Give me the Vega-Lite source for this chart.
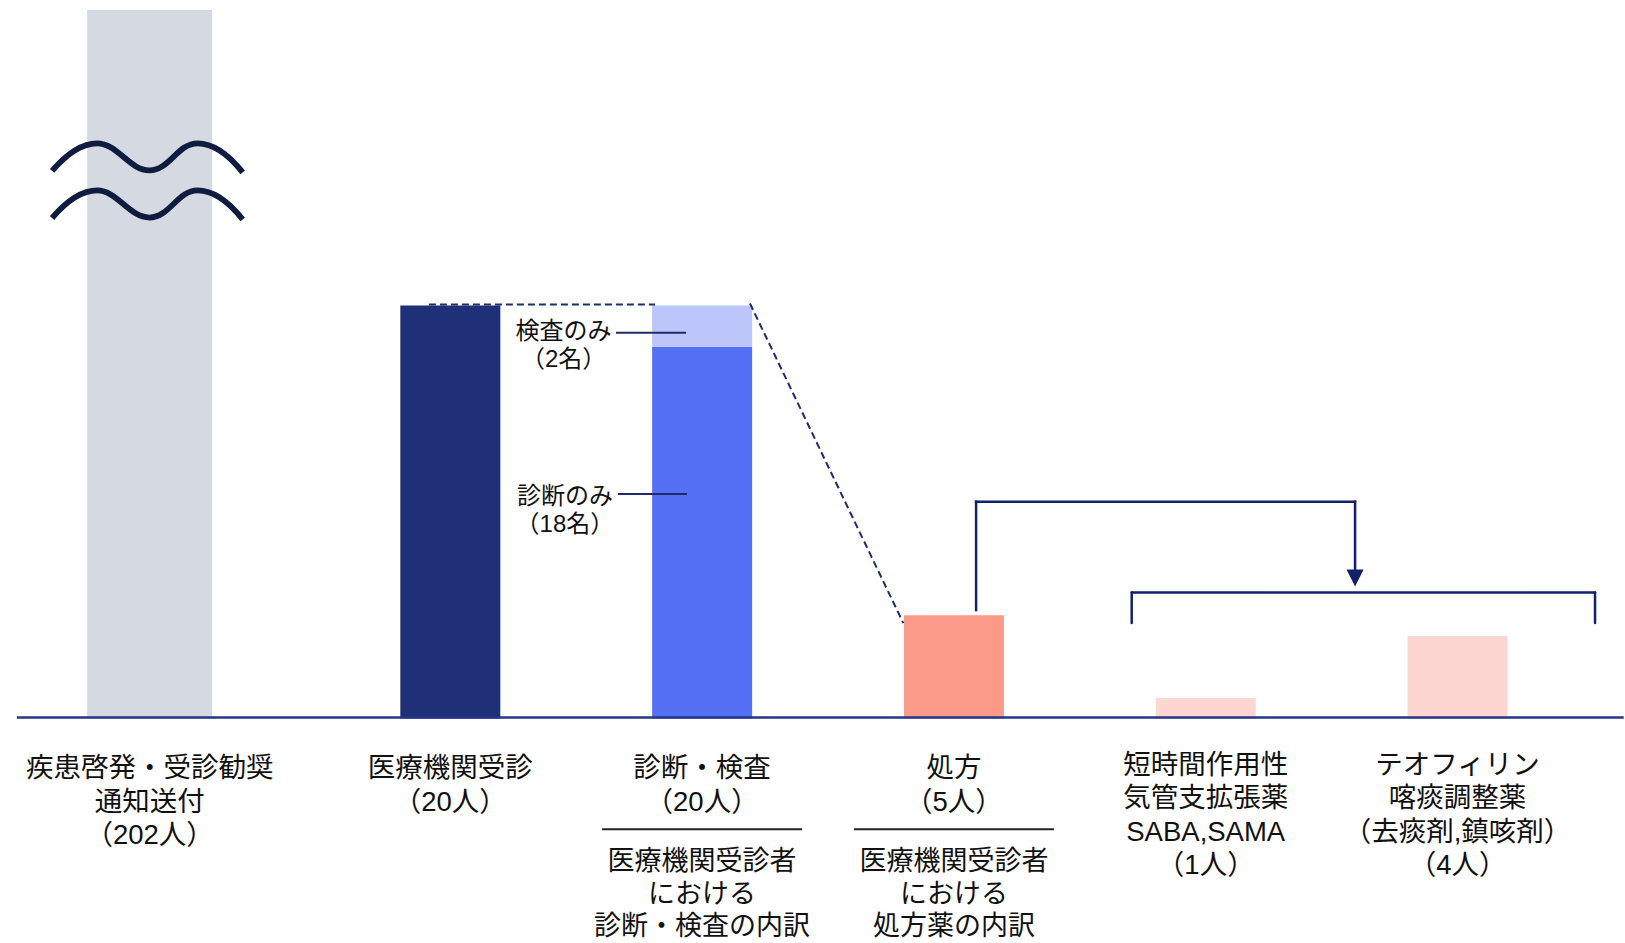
{
  "$schema": "https://vega.github.io/schema/vega-lite/v6.json",
  "width": 1625,
  "height": 933,
  "autosize": "none",
  "padding": {"top": 10, "left": 0, "right": 0, "bottom": 0},
  "background": "white",
  "config": {"view": {"stroke": null}},
  "datasets": {
    "bars": [
      {"stage": "疾患啓発・受診勧奨通知送付", "part": "通知送付", "slot": 0.806, "count": 202},
      {"stage": "医療機関受診", "part": "医療機関受診", "slot": 2, "count": 20},
      {"stage": "診断・検査", "part": "診断のみ", "slot": 3, "count": 18},
      {"stage": "診断・検査", "part": "検査のみ", "slot": 3, "count": 2},
      {"stage": "処方", "part": "処方", "slot": 4, "count": 5},
      {"stage": "処方薬", "part": "SABA,SAMA", "slot": 5, "count": 1},
      {"stage": "処方薬", "part": "テオフィリン・喀痰調整薬", "slot": 6, "count": 4}
    ],
    "stages": [
      {"slot": 0.806, "label": "疾患啓発・受診勧奨\n通知送付\n（202人）"},
      {"slot": 2, "label": "医療機関受診\n（20人）"},
      {"slot": 3, "label": "診断・検査\n（20人）"},
      {"slot": 4, "label": "処方\n（5人）"}
    ],
    "drugs": [
      {"slot": 5, "label": "短時間作用性\n気管支拡張薬\nSABA,SAMA\n（1人）"},
      {"slot": 6, "label": "テオフィリン\n喀痰調整薬\n（去痰剤,鎮咳剤）\n（4人）"}
    ],
    "subnotes": [
      {"slot": 3, "label": "医療機関受診者\nにおける\n診断・検査の内訳"},
      {"slot": 4, "label": "医療機関受診者\nにおける\n処方薬の内訳"}
    ]
  },
  "layer": [
    {
      "data": {"name": "bars"},
      "transform": [
        {"filter": "datum.slot < 1"},
        {"stack": "count", "groupby": ["slot"], "sort": [{"field": "count", "order": "descending"}], "as": ["c0", "c1"]}
      ],
      "mark": {"type": "bar", "width": 125},
      "encoding": {
        "x": {"field": "slot", "type": "quantitative", "axis": null, "scale": {"domain": [0.2117, 6.665], "nice": false, "zero": false, "padding": 0}},
        "y": {"field": "c1", "type": "quantitative", "axis": null, "scale": {"domain": [-10.87, 34.31], "nice": false, "zero": false, "clamp": true, "padding": 0}},
        "y2": {"field": "c0"},
        "color": {"field": "part", "type": "nominal", "legend": null, "scale": {"domain": ["通知送付", "医療機関受診", "診断のみ", "検査のみ", "処方", "SABA,SAMA", "テオフィリン・喀痰調整薬"], "range": ["#D5DAE2", "#1F2F78", "#5570F5", "#BCC6FA", "#FC9A8A", "#FDD5D1", "#FDD5D1"]}}
      }
    },
    {
      "data": {"name": "bars"},
      "transform": [
        {"filter": "datum.slot >= 1"},
        {"stack": "count", "groupby": ["slot"], "sort": [{"field": "count", "order": "descending"}], "as": ["c0", "c1"]}
      ],
      "mark": {"type": "bar", "width": 100},
      "encoding": {
        "x": {"field": "slot", "type": "quantitative", "axis": null, "scale": {"domain": [0.2117, 6.665], "nice": false, "zero": false, "padding": 0}},
        "y": {"field": "c1", "type": "quantitative", "axis": null, "scale": {"domain": [-10.87, 34.31], "nice": false, "zero": false, "clamp": true, "padding": 0}},
        "y2": {"field": "c0"},
        "color": {"field": "part", "type": "nominal", "legend": null, "scale": {"domain": ["通知送付", "医療機関受診", "診断のみ", "検査のみ", "処方", "SABA,SAMA", "テオフィリン・喀痰調整薬"], "range": ["#D5DAE2", "#1F2F78", "#5570F5", "#BCC6FA", "#FC9A8A", "#FDD5D1", "#FDD5D1"]}}
      }
    },
    {
      "data": {"values": [{}]},
      "mark": {"type": "point", "shape": "M-1,-0.1C-0.842,-0.284,-0.684,-0.389,-0.526,-0.389C-0.316,-0.389,-0.189,-0.105,0.021,-0.105C0.232,-0.105,0.316,-0.389,0.526,-0.389C0.684,-0.389,0.842,-0.284,1,-0.084M-1,0.395C-0.842,0.211,-0.684,0.106,-0.526,0.106C-0.316,0.106,-0.189,0.39,0.021,0.39C0.232,0.39,0.316,0.106,0.526,0.106C0.684,0.106,0.842,0.211,1,0.411", "size": 36328, "filled": false, "color": "#101B40", "strokeWidth": 5.8, "strokeCap": "butt", "opacity": 1},
      "encoding": {
        "x": {"datum": 0.797, "type": "quantitative"},
        "y": {"datum": 26.06, "type": "quantitative"}
      }
    },
    {
      "data": {"values": [{}]},
      "mark": {"type": "rule", "color": "#24358A", "strokeWidth": 2.5},
      "encoding": {
        "x": {"datum": 0.279, "type": "quantitative"},
        "x2": {"datum": 6.66},
        "y": {"datum": 0.05, "type": "quantitative"}
      }
    },
    {
      "data": {"values": [{}]},
      "mark": {"type": "rule", "color": "#1E2D70", "strokeWidth": 2, "strokeDash": [7, 4]},
      "encoding": {
        "x": {"datum": 1.915, "type": "quantitative"},
        "x2": {"datum": 2.813},
        "y": {"datum": 20.05, "type": "quantitative"}
      }
    },
    {
      "data": {"values": [{}]},
      "mark": {"type": "rule", "color": "#1E2D70", "strokeWidth": 2, "strokeDash": [7, 4]},
      "encoding": {
        "x": {"datum": 3.19, "type": "quantitative"},
        "x2": {"datum": 3.799},
        "y": {"datum": 20.1, "type": "quantitative"},
        "y2": {"datum": 4.62}
      }
    },
    {
      "data": {"values": [{}]},
      "mark": {"type": "rule", "color": "#13206B", "strokeWidth": 2.5, "strokeCap": "square"},
      "encoding": {
        "x": {"datum": 4.088, "type": "quantitative"},
        "y": {"datum": 5.25, "type": "quantitative"},
        "y2": {"datum": 10.5}
      }
    },
    {
      "data": {"values": [{}]},
      "mark": {"type": "rule", "color": "#13206B", "strokeWidth": 2.5, "strokeCap": "square"},
      "encoding": {
        "x": {"datum": 4.088, "type": "quantitative"},
        "x2": {"datum": 5.593},
        "y": {"datum": 10.5, "type": "quantitative"}
      }
    },
    {
      "data": {"values": [{}]},
      "mark": {"type": "rule", "color": "#13206B", "strokeWidth": 2.5, "strokeCap": "square"},
      "encoding": {
        "x": {"datum": 5.593, "type": "quantitative"},
        "y": {"datum": 10.5, "type": "quantitative"},
        "y2": {"datum": 6.95}
      }
    },
    {
      "data": {"values": [{}]},
      "mark": {"type": "point", "shape": "M-1,-1L1,-1L0,1Z", "size": 289, "filled": true, "color": "#13206B", "opacity": 1},
      "encoding": {
        "x": {"datum": 5.593, "type": "quantitative"},
        "y": {"datum": 6.8, "type": "quantitative"}
      }
    },
    {
      "data": {"values": [{}]},
      "mark": {"type": "rule", "color": "#13206B", "strokeWidth": 2.5, "strokeCap": "round"},
      "encoding": {
        "x": {"datum": 4.706, "type": "quantitative"},
        "x2": {"datum": 6.546},
        "y": {"datum": 6.1, "type": "quantitative"}
      }
    },
    {
      "data": {"values": [{}]},
      "mark": {"type": "rule", "color": "#13206B", "strokeWidth": 2.5, "strokeCap": "round"},
      "encoding": {
        "x": {"datum": 4.706, "type": "quantitative"},
        "y": {"datum": 6.1, "type": "quantitative"},
        "y2": {"datum": 4.62}
      }
    },
    {
      "data": {"values": [{}]},
      "mark": {"type": "rule", "color": "#13206B", "strokeWidth": 2.5, "strokeCap": "round"},
      "encoding": {
        "x": {"datum": 6.546, "type": "quantitative"},
        "y": {"datum": 6.1, "type": "quantitative"},
        "y2": {"datum": 4.62}
      }
    },
    {
      "data": {"values": [{}]},
      "mark": {"type": "rule", "color": "#1F2A6B", "strokeWidth": 2},
      "encoding": {
        "x": {"datum": 2.658, "type": "quantitative"},
        "x2": {"datum": 2.936},
        "y": {"datum": 18.68, "type": "quantitative"}
      }
    },
    {
      "data": {"values": [{}]},
      "mark": {"type": "rule", "color": "#1F2A6B", "strokeWidth": 2},
      "encoding": {
        "x": {"datum": 2.666, "type": "quantitative"},
        "x2": {"datum": 2.94},
        "y": {"datum": 10.87, "type": "quantitative"}
      }
    },
    {
      "data": {"values": [{"label": "検査のみ\n（2名）"}]},
      "mark": {"type": "text", "font": "Liberation Sans, Noto Sans CJK JP", "fontSize": 24, "lineBreak": "\n", "lineHeight": 28, "align": "center", "baseline": "top", "color": "#111111"},
      "encoding": {
        "x": {"datum": 2.45, "type": "quantitative"},
        "y": {"datum": 19.3, "type": "quantitative"},
        "text": {"field": "label"}
      }
    },
    {
      "data": {"values": [{"label": "診断のみ\n（18名）"}]},
      "mark": {"type": "text", "font": "Liberation Sans, Noto Sans CJK JP", "fontSize": 24, "lineBreak": "\n", "lineHeight": 28, "align": "center", "baseline": "top", "color": "#111111"},
      "encoding": {
        "x": {"datum": 2.455, "type": "quantitative"},
        "y": {"datum": 11.3, "type": "quantitative"},
        "text": {"field": "label"}
      }
    },
    {
      "data": {"name": "stages"},
      "mark": {"type": "text", "font": "Liberation Sans, Noto Sans CJK JP", "fontSize": 27.5, "lineBreak": "\n", "lineHeight": 33.5, "align": "center", "baseline": "top", "color": "#111111"},
      "encoding": {
        "x": {"field": "slot", "type": "quantitative"},
        "y": {"datum": -1.77, "type": "quantitative"},
        "text": {"field": "label"}
      }
    },
    {
      "data": {"name": "drugs"},
      "mark": {"type": "text", "font": "Liberation Sans, Noto Sans CJK JP", "fontSize": 27.5, "lineBreak": "\n", "lineHeight": 33.5, "align": "center", "baseline": "top", "color": "#111111"},
      "encoding": {
        "x": {"field": "slot", "type": "quantitative"},
        "y": {"datum": -1.6, "type": "quantitative"},
        "text": {"field": "label"}
      }
    },
    {
      "data": {"name": "subnotes"},
      "mark": {"type": "text", "font": "Liberation Sans, Noto Sans CJK JP", "fontSize": 27, "lineBreak": "\n", "lineHeight": 32.5, "align": "center", "baseline": "top", "color": "#111111"},
      "encoding": {
        "x": {"field": "slot", "type": "quantitative"},
        "y": {"datum": -6.32, "type": "quantitative"},
        "text": {"field": "label"}
      }
    },
    {
      "data": {"name": "subnotes"},
      "mark": {"type": "tick", "orient": "horizontal", "size": 200, "thickness": 2, "color": "#222222", "opacity": 1},
      "encoding": {
        "x": {"field": "slot", "type": "quantitative"},
        "y": {"datum": -5.36, "type": "quantitative"}
      }
    }
  ]
}
